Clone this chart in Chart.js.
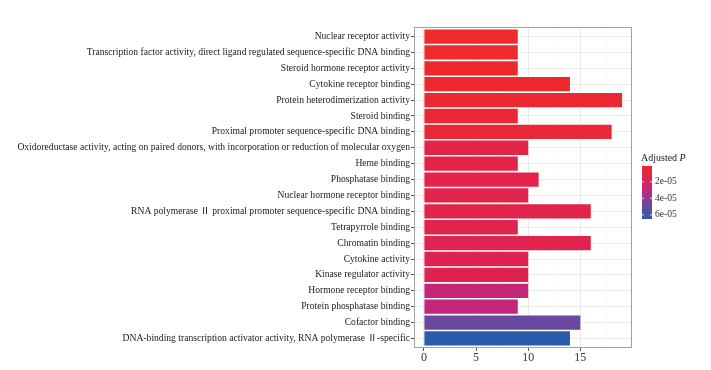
<!DOCTYPE html>
<html>
<head>
<meta charset="utf-8">
<style>
  html, body { margin: 0; padding: 0; background: #ffffff; }
</style>
</head>
<body>
<canvas id="goChart" width="711" height="370"></canvas>

<script src="https://cdn.jsdelivr.net/npm/chart.js"></script>
<script>
// GO molecular function terms, top to bottom
var terms = [
    'Nuclear receptor activity',
    'Transcription factor activity, direct ligand regulated sequence-specific DNA binding',
    'Steroid hormone receptor activity',
    'Cytokine receptor binding',
    'Protein heterodimerization activity',
    'Steroid binding',
    'Proximal promoter sequence-specific DNA binding',
    'Oxidoreductase activity, acting on paired donors, with incorporation or reduction of molecular oxygen',
    'Heme binding',
    'Phosphatase binding',
    'Nuclear hormone receptor binding',
    'RNA polymerase \u2161 proximal promoter sequence-specific DNA binding',
    'Tetrapyrrole binding',
    'Chromatin binding',
    'Cytokine activity',
    'Kinase regulator activity',
    'Hormone receptor binding',
    'Protein phosphatase binding',
    'Cofactor binding',
    'DNA-binding transcription activator activity, RNA polymerase \u2161-specific'
];
var geneCounts = [9, 9, 9, 14, 19, 9, 18, 10, 9, 11, 10, 16, 9, 16, 10, 10, 10, 9, 15, 14];
var adjustedP = [1.0e-6, 1.5e-6, 2.0e-6, 2.5e-6, 3.5e-6, 4.5e-6, 5.5e-6, 1.2e-5, 1.25e-5, 1.3e-5,
                 1.35e-5, 1.4e-5, 1.45e-5, 1.5e-5, 1.55e-5, 1.6e-5, 2.9e-5, 3.0e-5, 4.8e-5, 6.5e-5];
var xTicks = [0, 2.5, 5, 7.5, 10, 12.5, 15, 17.5];
var legendTicks = [2e-5, 4e-5, 6e-5];
var legendLabels = ['2e-05', '4e-05', '6e-05'];

var serif = '"Liberation Serif", "Noto Sans CJK SC", serif';
var pMin = Math.min.apply(null, adjustedP);
var pMax = Math.max.apply(null, adjustedP);

// low p -> red, high p -> blue
var colorStops = [
    [0, [238, 42, 42]],
    [0.2, [226, 35, 75]],
    [0.45, [196, 38, 122]],
    [0.73, [108, 72, 160]],
    [1, [42, 91, 171]]
];

function pColor(p) {
    var t = (p - pMin) / (pMax - pMin);
    for (var i = 1; i < colorStops.length; i++) {
        if (t <= colorStops[i][0] || i === colorStops.length - 1) {
            var a = colorStops[i - 1], b = colorStops[i];
            var f = Math.max(0, Math.min(1, (t - a[0]) / (b[0] - a[0])));
            var c = a[1].map(function (v, k) { return Math.round(v + (b[1][k] - v) * f); });
            return 'rgb(' + c.join(',') + ')';
        }
    }
}

var panelAndLegend = {
    id: 'panelAndLegend',
    afterDatasetsDraw: function (chart) {
        var ctx = chart.ctx, area = chart.chartArea;
        ctx.save();
        ctx.strokeStyle = '#a3a3a3';
        ctx.lineWidth = 1;
        ctx.strokeRect(area.left + 0.5, area.top + 0.5, area.right - area.left - 1, area.bottom - area.top - 1);
        ctx.restore();
    },
    afterDraw: function (chart) {
        var ctx = chart.ctx;
        var bx = 642, by = 166, bw = 10, bh = 53;
        ctx.save();
        // title
        ctx.fillStyle = '#1a1a1a';
        ctx.textBaseline = 'middle';
        ctx.textAlign = 'left';
        ctx.font = '10px ' + serif;
        ctx.fillText('Adjusted ', 641, 158);
        var w = ctx.measureText('Adjusted ').width;
        ctx.font = 'italic 10px ' + serif;
        ctx.fillText('P', 641 + w, 158);

        // colour bar
        var grad = ctx.createLinearGradient(0, by, 0, by + bh);
        colorStops.forEach(function (s) {
            grad.addColorStop(s[0], 'rgb(' + s[1].join(',') + ')');
        });
        ctx.fillStyle = grad;
        ctx.fillRect(bx, by, bw, bh);

        ctx.font = '9.5px ' + serif;
        ctx.fillStyle = '#333333';
        legendTicks.forEach(function (p, i) {
            var y = by + (p - pMin) / (pMax - pMin) * bh;
            ctx.strokeStyle = '#ffffff';
            ctx.lineWidth = 0.8;
            ctx.beginPath();
            ctx.moveTo(bx, y); ctx.lineTo(bx + 2, y);
            ctx.moveTo(bx + bw - 2, y); ctx.lineTo(bx + bw, y);
            ctx.stroke();
            ctx.fillText(legendLabels[i], bx + bw + 3, y);
        });
        ctx.restore();
    }
};

var ctx = document.getElementById('goChart').getContext('2d');

new Chart(ctx, {
    type: 'bar',
    data: {
        datasets: [{
            data: geneCounts.map(function (v, i) { return { x: v, y: i }; }),
            backgroundColor: adjustedP.map(pColor),
            borderWidth: 0,
            barPercentage: 0.9,
            categoryPercentage: 1.0
        }]
    },
    options: {
        indexAxis: 'y',
        responsive: false,
        animation: false,
        layout: { padding: { top: 27, right: 79, left: 0, bottom: 0 } },
        plugins: {
            legend: { display: false },
            tooltip: { enabled: false }
        },
        scales: {
            x: {
                type: 'linear',
                min: -0.95,
                max: 19.95,
                afterBuildTicks: function (scale) {
                    scale.ticks = xTicks.map(function (v) { return { value: v }; });
                },
                afterFit: function (scale) { scale.height = 22; },
                border: { display: false },
                grid: {
                    color: function (c) { return c.tick && c.tick.value % 5 === 0 ? '#ebebeb' : '#f4f4f4'; },
                    lineWidth: function (c) { return c.tick && c.tick.value % 5 === 0 ? 1 : 0.6; },
                    tickColor: function (c) { return c.tick && c.tick.value % 5 === 0 ? '#555555' : 'rgba(0,0,0,0)'; },
                    tickLength: 3
                },
                ticks: {
                    autoSkip: false,
                    maxRotation: 0,
                    padding: 0,
                    color: '#333333',
                    font: { family: serif, size: 12 },
                    callback: function (v) { return v % 5 === 0 ? String(v) : ''; }
                }
            },
            y: {
                type: 'linear',
                reverse: true,
                offset: false,
                min: -0.6,
                max: terms.length - 1 + 0.6,
                afterBuildTicks: function (scale) {
                    scale.ticks = terms.map(function (t, i) { return { value: i }; });
                },
                afterFit: function (scale) { scale.width = 414; },
                border: { display: false },
                grid: {
                    offset: false,
                    color: '#ebebeb',
                    tickColor: '#555555',
                    tickLength: 3
                },
                ticks: {
                    autoSkip: false,
                    padding: 1,
                    color: '#1a1a1a',
                    font: { family: serif, size: 9.6 },
                    callback: function (v) { return terms[v]; }
                }
            }
        }
    },
    plugins: [panelAndLegend]
});
</script>
</body>
</html>
